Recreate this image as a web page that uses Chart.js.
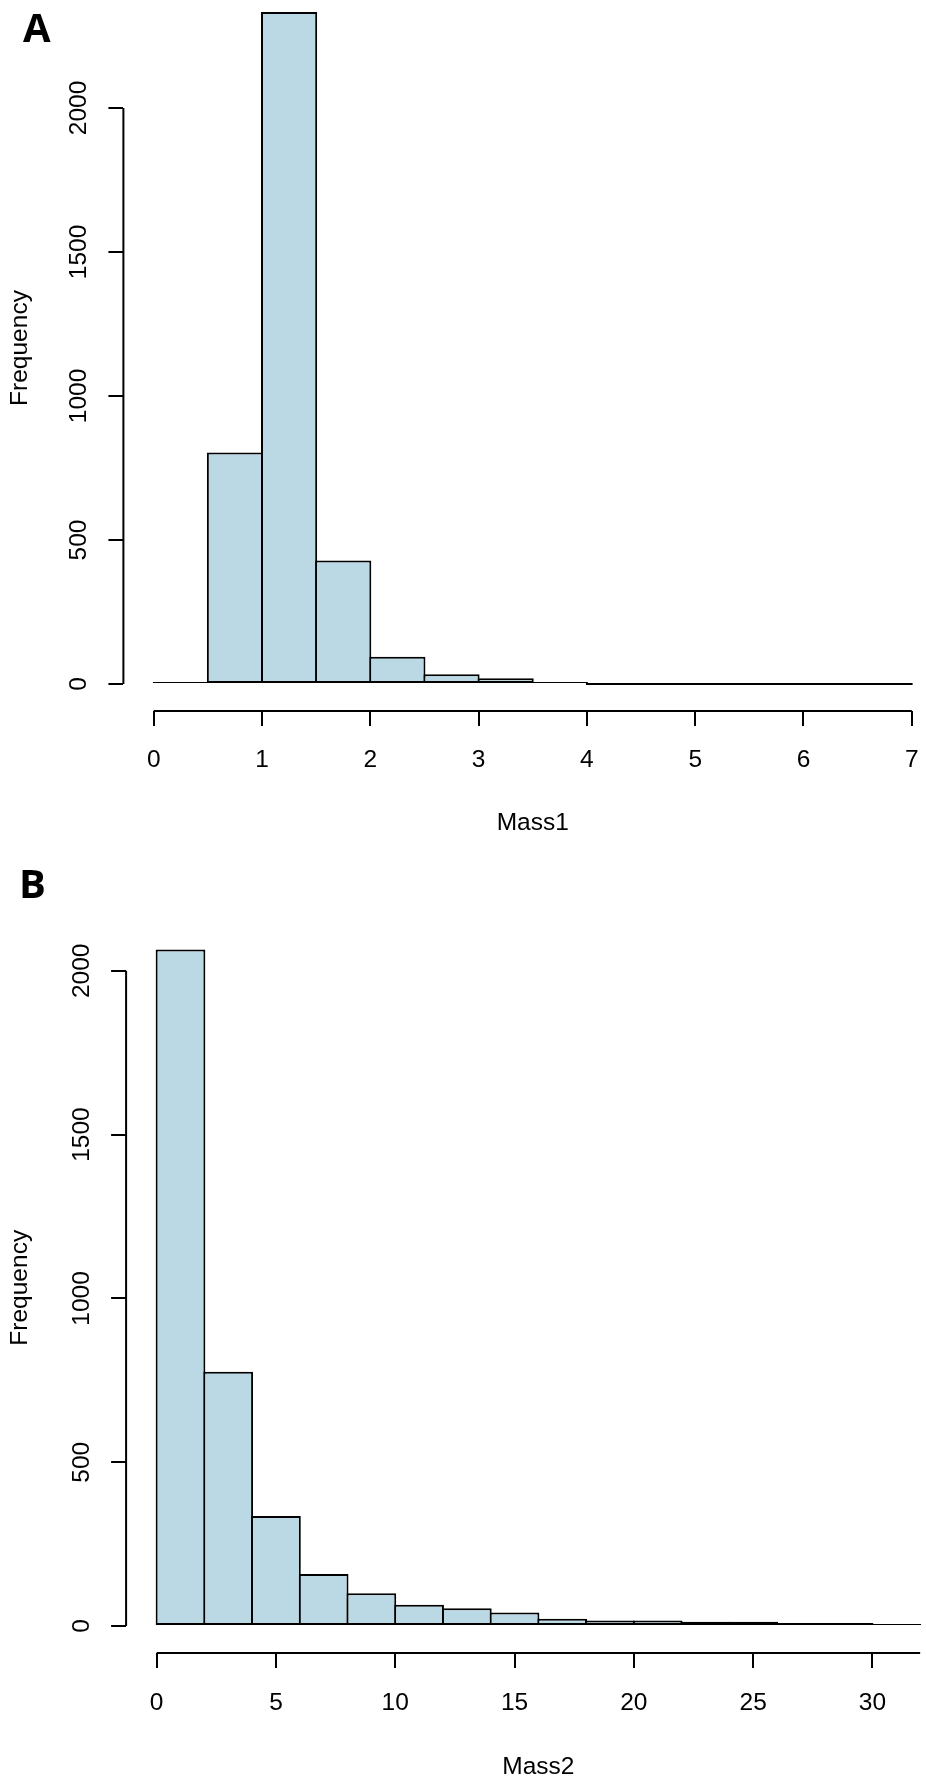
<!DOCTYPE html>
<html>
<head>
<meta charset="utf-8">
<script src="https://cdn.jsdelivr.net/npm/chart.js@4.4.1/dist/chart.umd.min.js"></script>
<style>
  html, body { margin: 0; padding: 0; background: #fff; width: 926px; height: 1783px; overflow: hidden; position: relative; }
  canvas { position: absolute; left: 0; }
  .tag { position: absolute; z-index: 2; font-family: 'Open Sans', sans-serif; font-weight: 700; font-size: 40px; line-height: 1; color: #000; }
</style>
</head>
<body>
<canvas id="histA" width="960" height="879" style="top:-40px"></canvas>
<canvas id="histB" width="960" height="923" style="top:860px"></canvas>
<div class="tag" style="left:23px;top:7px">A</div>
<div class="tag" style="left:19px;top:863px">B</div>
<script>
/* ── data ─────────────────────────────── */
const mass1Breaks = [0, 0.5, 1, 1.5, 2, 2.5, 3, 3.5, 4, 4.5, 5, 5.5, 6, 6.5, 7];
const mass1Counts = [7, 804, 2333, 429, 95, 34, 20, 7, 0, 0, 0, 0, 0, 0];
const mass1XTicks = [0, 1, 2, 3, 4, 5, 6, 7];
const mass1YTicks = [0, 500, 1000, 1500, 2000];

const mass2Breaks = [0, 2, 4, 6, 8, 10, 12, 14, 16, 18, 20, 22, 24, 26, 28, 30, 32];
const mass2Counts = [2065, 776, 336, 159, 100, 65, 54, 41, 22, 17, 17, 13, 13, 9, 9, 3];
const mass2XTicks = [0, 5, 10, 15, 20, 25, 30];
const mass2YTicks = [0, 500, 1000, 1500, 2000];

/* ── style ────────────────────────────── */
const FONT = "'Liberation Sans', Arial, Helvetica, sans-serif";
const FONT_SIZE = 24.5;
const LW = 2;
const BAR_FILL = '#BAD9E5';

// axis lines run from the first tick to the last tick (or last break, if further)
const rAxisLines = {
  id: 'rAxisLines',
  afterDraw(chart, args, opts) {
    const { ctx, chartArea, scales: { x, y } } = chart;
    const xt = x.ticks, yt = y.ticks;
    const xEnd = Math.max(xt[xt.length - 1].value, opts.xEnd);
    ctx.save();
    ctx.strokeStyle = '#000';
    ctx.lineWidth = LW;
    ctx.beginPath();
    ctx.moveTo(x.getPixelForValue(xt[0].value), chartArea.bottom);
    ctx.lineTo(x.getPixelForValue(xEnd), chartArea.bottom);
    ctx.moveTo(chartArea.left, y.getPixelForValue(yt[0].value));
    ctx.lineTo(chartArea.left, y.getPixelForValue(yt[yt.length - 1].value));
    ctx.stroke();
    ctx.restore();
  }
};

function hist(id, breaks, counts, xTicks, yTicks, xTitle, box) {
  const canvas = document.getElementById(id);
  const W = canvas.width, H = canvas.height;
  const lo = breaks[0], hi = breaks[breaks.length - 1];
  const xMin = lo - 0.04 * (hi - lo), xMax = hi + 0.04 * (hi - lo);
  const yMax = Math.max(...counts);
  const pxPerX = (box.right - box.left) / (xMax - xMin);
  const binPx = (breaks[1] - breaks[0]) * pxPerX;
  const top = box.top - box.canvasTop;
  const bottom = box.bottom - box.canvasTop;
  const points = counts.map((c, i) => ({ x: (breaks[i] + breaks[i + 1]) / 2, y: c }));
  const tickFont = { family: FONT, size: FONT_SIZE };

  return new Chart(canvas, {
    type: 'bar',
    data: {
      datasets: [{
        data: points,
        backgroundColor: BAR_FILL,
        borderColor: '#000',
        borderWidth: LW,
        borderSkipped: false,
        barPercentage: (binPx + LW) / binPx,
        categoryPercentage: 1,
        minBarLength: LW
      }]
    },
    options: {
      responsive: false,
      animation: false,
      devicePixelRatio: 1,
      layout: { padding: { top: top, right: W - box.right, left: 0, bottom: 0 } },
      plugins: { legend: { display: false }, tooltip: { enabled: false }, rAxisLines: { xEnd: hi } },
      scales: {
        x: {
          type: 'linear',
          bounds: 'data',
          min: xMin, max: xMax,
          offset: false,
          afterBuildTicks: s => { s.ticks = xTicks.map(v => ({ value: v })); },
          afterFit: s => { s.height = H - bottom; },
          grid: { offset: false, drawOnChartArea: false, drawTicks: true, tickLength: 15, color: '#000', lineWidth: LW },
          border: { display: false },
          ticks: { font: tickFont, color: '#000', padding: 20, maxRotation: 0, autoSkip: false, callback: v => String(v) },
          title: { display: true, text: xTitle, font: tickFont, color: '#000', padding: { top: 0, bottom: 1.3 } }
        },
        y: {
          type: 'linear',
          bounds: 'data',
          min: -0.04 * yMax, max: 1.04 * yMax,
          afterBuildTicks: s => { s.ticks = yTicks.map(v => ({ value: v })); },
          afterFit: s => { s.width = box.left; },
          grid: { drawOnChartArea: false, drawTicks: true, tickLength: 15, color: '#000', lineWidth: LW },
          border: { display: false },
          ticks: { font: tickFont, color: '#000', padding: 2, minRotation: 90, maxRotation: 90, crossAlign: 'center', autoSkip: false, callback: v => String(v) },
          title: { display: true, text: 'Frequency', font: tickFont, color: '#000', padding: { top: 6, bottom: 0 } }
        }
      }
    },
    plugins: [rAxisLines]
  });
}

// plot regions in page pixels
hist('histA', mass1Breaks, mass1Counts, mass1XTicks, mass1YTicks, 'Mass1',
  { canvasTop: -40, left: 123.4, right: 942.1, top: -14.9, bottom: 710.9 });
hist('histB', mass2Breaks, mass2Counts, mass2XTicks, mass2YTicks, 'Mass2',
  { canvasTop: 860, left: 126.1, right: 950.7, top: 922.4, bottom: 1653.1 });
</script>
</body>
</html>
